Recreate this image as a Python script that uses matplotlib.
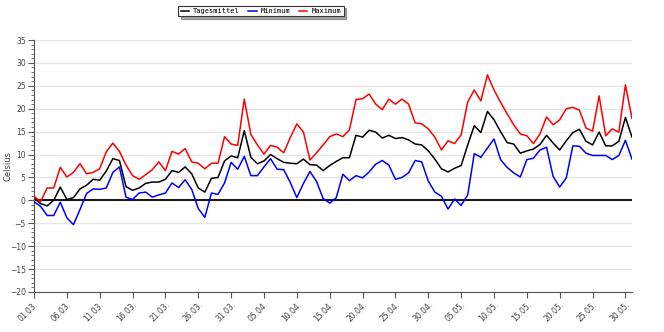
import numpy as np
import matplotlib.pyplot as plt
from matplotlib.ticker import MultipleLocator, FixedLocator
import datetime as dt

# daily temperatures, 01.03. - 31.05.
tagesmittel = [0.5, -0.7, -1.2, 0.0, 2.9, 0.2, 0.6, 2.5, 3.3, 4.6,
               4.4, 6.4, 9.1, 8.7, 3.0, 2.2, 2.7, 3.7, 4.0, 4.0,
               4.6, 6.5, 6.1, 7.3, 5.8, 2.7, 1.8, 4.8, 5.0, 8.6,
               9.7, 9.3, 15.2, 9.4, 8.0, 8.6, 10.0, 9.1, 8.3, 8.1,
               8.0, 9.0, 7.8, 7.7, 6.5, 7.6, 8.5, 9.3, 9.3, 14.2,
               13.8, 15.3, 14.9, 13.6, 14.2, 13.5, 13.7, 13.2, 12.3, 12.1,
               10.8, 9.0, 6.9, 6.2, 7.0, 7.6, 12.1, 16.3, 14.8, 19.4,
               17.6, 15.0, 12.6, 12.3, 10.3, 10.8, 11.2, 12.2, 14.2, 12.5,
               11.0, 13.0, 14.8, 15.5, 12.9, 12.1, 14.9, 11.9, 11.9, 12.9,
               18.1, 13.8]
minimum = [-0.3, -1.3, -3.3, -3.3, -0.4, -3.8, -5.3, -2.0, 1.5, 2.5,
           2.4, 2.7, 6.1, 7.3, 0.7, 0.2, 1.6, 1.8, 0.7, 1.2,
           1.6, 3.8, 2.8, 4.5, 2.4, -1.8, -3.7, 1.6, 1.3, 3.8,
           8.3, 6.8, 9.6, 5.4, 5.4, 7.3, 9.1, 6.8, 6.7, 3.9,
           0.6, 3.7, 6.3, 4.1, 0.4, -0.6, 0.6, 5.7, 4.3, 5.4,
           4.9, 6.2, 7.9, 8.7, 7.7, 4.6, 5.0, 6.0, 8.7, 8.4,
           4.2, 1.8, 0.9, -1.9, 0.3, -1.1, 1.2, 10.2, 9.4, 11.4,
           13.4, 8.9, 7.2, 6.0, 5.1, 8.9, 9.2, 11.0, 11.6, 5.2,
           2.9, 4.9, 11.9, 11.8, 10.3, 9.8, 9.8, 9.8, 8.9, 9.8,
           13.1, 9.0]
maximum = [0.9, -0.3, 2.7, 2.7, 7.2, 5.1, 6.1, 8.0, 5.8, 6.1,
           6.9, 10.6, 12.5, 10.7, 7.7, 5.4, 4.6, 5.6, 6.7, 8.4,
           6.5, 10.7, 10.1, 11.3, 8.4, 8.1, 6.9, 8.1, 8.1, 13.9,
           12.3, 12.0, 22.1, 14.4, 12.1, 10.1, 12.0, 11.6, 10.4, 13.7,
           16.7, 14.9, 8.8, 10.4, 12.1, 13.9, 14.5, 13.9, 15.4, 22.0,
           22.2, 23.2, 21.0, 19.8, 22.1, 21.0, 22.1, 21.0, 16.9, 16.7,
           15.6, 13.8, 11.0, 13.0, 12.4, 14.3, 21.5, 24.1, 21.7, 27.4,
           24.1, 21.4, 18.9, 16.5, 14.5, 14.1, 12.4, 14.5, 18.2, 16.5,
           17.6, 20.0, 20.3, 19.7, 15.8, 15.1, 22.8, 14.1, 15.6, 14.9,
           25.2, 17.9]

start = dt.date(2000, 3, 1)
days = np.arange(len(tagesmittel))
tick_days = np.arange(0, 91, 5)
tick_labels = [(start + dt.timedelta(days=int(d))).strftime("%d.%m.") for d in tick_days]

fig = plt.figure(figsize=(6.64, 3.32), dpi=100)
ax = fig.add_axes([0.0512, 0.1205, 0.9006, 0.759])

for y in range(-20, 36, 5):
    ax.axhline(y, color="#e6e6e6", lw=1.0, zorder=0)
ax.axhline(0, color="black", lw=1.3, zorder=1)

ax.plot(days, tagesmittel, color="black", lw=1.1, label="Tagesmittel", zorder=3)
ax.plot(days, minimum, color="#0000ff", lw=1.1, label="Minimum", zorder=3)
ax.plot(days, maximum, color="#ff0000", lw=1.1, label="Maximum", zorder=3)

ax.set_xlim(0, 91)
ax.set_ylim(-20, 35)
ax.xaxis.set_major_locator(FixedLocator(tick_days))
ax.set_xticklabels(tick_labels, rotation=45, ha="right", rotation_mode="anchor")
ax.yaxis.set_major_locator(MultipleLocator(5))
ax.yaxis.set_minor_locator(MultipleLocator(1))

for s in ["top", "right"]:
    ax.spines[s].set_visible(False)
for s in ["left", "bottom"]:
    ax.spines[s].set_color("#555555")
ax.tick_params(axis="both", which="major", labelsize=5.5, colors="#555555",
               labelcolor="#444444", length=4, width=0.8, pad=2)
ax.tick_params(axis="y", which="minor", length=2, width=0.6, colors="#555555")
ax.set_ylabel("Celsius", fontsize=6, color="#444444")
ax.yaxis.set_label_coords(-0.036, 0.5)

leg = fig.legend(loc="center", bbox_to_anchor=(0.393, 0.967), ncol=3,
                 prop={"family": "DejaVu Sans Mono", "size": 5},
                 frameon=True, fancybox=False, shadow=True,
                 handlelength=1.2, handletextpad=0.6, columnspacing=1.2,
                 borderpad=0.35)
leg.get_frame().set_edgecolor("#333333")
leg.get_frame().set_linewidth(0.8)

fig.savefig("out.png", dpi=100)
